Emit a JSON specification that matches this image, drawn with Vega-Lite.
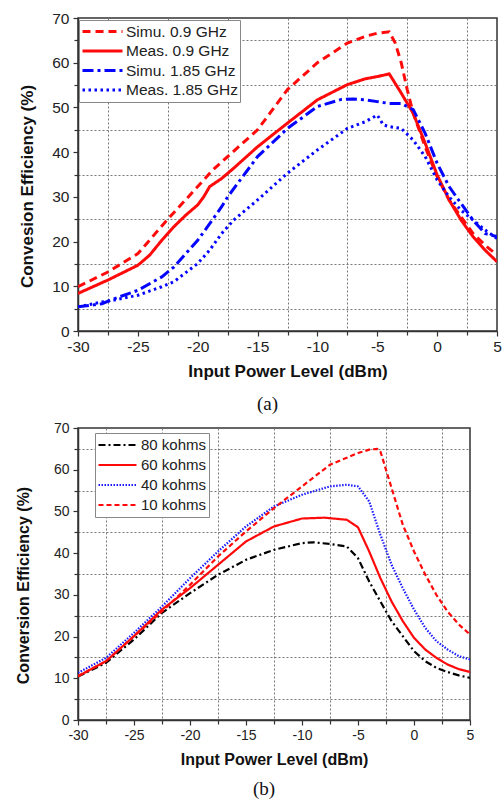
{
  "$schema": "https://vega.github.io/schema/vega-lite/v6.json",
  "padding": {"left": 14, "top": 10, "right": 4, "bottom": 2},
  "background": "white",
  "spacing": 5,
  "align": "none",
  "resolve": {
    "scale": {"color": "independent", "strokeDash": "independent", "x": "independent", "y": "independent"},
    "legend": {"color": "independent", "strokeDash": "independent"}
  },
  "config": {
    "view": {"stroke": "#333333", "strokeWidth": 1.5},
    "font": "Liberation Sans",
    "axis": {
      "domainColor": "#333333", "domainWidth": 1.5,
      "tickColor": "#333333", "tickWidth": 1.2,
      "labelColor": "#222222", "titleColor": "#111111",
      "labelFont": "Liberation Sans", "titleFont": "Liberation Sans",
      "titleFontWeight": "bold", "labelOverlap": false, "labelFlush": false,
      "gridColor": "#777777", "gridDash": [2, 2], "gridWidth": 1
    },
    "legend": {
      "labelFont": "Liberation Sans", "labelColor": "#222222",
      "strokeColor": "#888888", "fillColor": "white", "symbolType": "stroke"
    }
  },
  "datasets": {
    "a": [
      {"series": "Simu. 0.9 GHz", "p": -30, "e": 9.9},
      {"series": "Simu. 0.9 GHz", "p": -27.5, "e": 13.2},
      {"series": "Simu. 0.9 GHz", "p": -25, "e": 17.3},
      {"series": "Simu. 0.9 GHz", "p": -22.5, "e": 25.0},
      {"series": "Simu. 0.9 GHz", "p": -20, "e": 32.3},
      {"series": "Simu. 0.9 GHz", "p": -18.75, "e": 36.0},
      {"series": "Simu. 0.9 GHz", "p": -17.5, "e": 39.0},
      {"series": "Simu. 0.9 GHz", "p": -15, "e": 45.0},
      {"series": "Simu. 0.9 GHz", "p": -12.5, "e": 54.0},
      {"series": "Simu. 0.9 GHz", "p": -10, "e": 60.0},
      {"series": "Simu. 0.9 GHz", "p": -7.5, "e": 64.4},
      {"series": "Simu. 0.9 GHz", "p": -6, "e": 65.9},
      {"series": "Simu. 0.9 GHz", "p": -5, "e": 66.6},
      {"series": "Simu. 0.9 GHz", "p": -4, "e": 66.9},
      {"series": "Simu. 0.9 GHz", "p": -3.5, "e": 64.4},
      {"series": "Simu. 0.9 GHz", "p": -3, "e": 60.0},
      {"series": "Simu. 0.9 GHz", "p": -2.5, "e": 54.0},
      {"series": "Simu. 0.9 GHz", "p": -2, "e": 48.7},
      {"series": "Simu. 0.9 GHz", "p": -1, "e": 41.2},
      {"series": "Simu. 0.9 GHz", "p": 0, "e": 34.5},
      {"series": "Simu. 0.9 GHz", "p": 1, "e": 29.3},
      {"series": "Simu. 0.9 GHz", "p": 2, "e": 25.5},
      {"series": "Simu. 0.9 GHz", "p": 3, "e": 21.8},
      {"series": "Simu. 0.9 GHz", "p": 4, "e": 19.2},
      {"series": "Simu. 0.9 GHz", "p": 5, "e": 17.0},
      {"series": "Meas. 0.9 GHz", "p": -30, "e": 8.4},
      {"series": "Meas. 0.9 GHz", "p": -27.5, "e": 11.4},
      {"series": "Meas. 0.9 GHz", "p": -25, "e": 14.7},
      {"series": "Meas. 0.9 GHz", "p": -24, "e": 17.0},
      {"series": "Meas. 0.9 GHz", "p": -23, "e": 20.3},
      {"series": "Meas. 0.9 GHz", "p": -22, "e": 23.3},
      {"series": "Meas. 0.9 GHz", "p": -21, "e": 25.9},
      {"series": "Meas. 0.9 GHz", "p": -20, "e": 28.2},
      {"series": "Meas. 0.9 GHz", "p": -19.5, "e": 30.0},
      {"series": "Meas. 0.9 GHz", "p": -19, "e": 32.3},
      {"series": "Meas. 0.9 GHz", "p": -18, "e": 34.1},
      {"series": "Meas. 0.9 GHz", "p": -17, "e": 36.4},
      {"series": "Meas. 0.9 GHz", "p": -15, "e": 41.2},
      {"series": "Meas. 0.9 GHz", "p": -12.5, "e": 46.5},
      {"series": "Meas. 0.9 GHz", "p": -10, "e": 51.7},
      {"series": "Meas. 0.9 GHz", "p": -7.5, "e": 55.1},
      {"series": "Meas. 0.9 GHz", "p": -6, "e": 56.4},
      {"series": "Meas. 0.9 GHz", "p": -5, "e": 56.9},
      {"series": "Meas. 0.9 GHz", "p": -4, "e": 57.5},
      {"series": "Meas. 0.9 GHz", "p": -3, "e": 53.2},
      {"series": "Meas. 0.9 GHz", "p": -2, "e": 48.7},
      {"series": "Meas. 0.9 GHz", "p": -1, "e": 42.0},
      {"series": "Meas. 0.9 GHz", "p": 0, "e": 34.9},
      {"series": "Meas. 0.9 GHz", "p": 1, "e": 29.3},
      {"series": "Meas. 0.9 GHz", "p": 2, "e": 24.8},
      {"series": "Meas. 0.9 GHz", "p": 3, "e": 21.1},
      {"series": "Meas. 0.9 GHz", "p": 4, "e": 18.1},
      {"series": "Meas. 0.9 GHz", "p": 5, "e": 15.5},
      {"series": "Simu. 1.85 GHz", "p": -30, "e": 5.4},
      {"series": "Simu. 1.85 GHz", "p": -28, "e": 6.1},
      {"series": "Simu. 1.85 GHz", "p": -27, "e": 7.2},
      {"series": "Simu. 1.85 GHz", "p": -25, "e": 9.1},
      {"series": "Simu. 1.85 GHz", "p": -23, "e": 12.1},
      {"series": "Simu. 1.85 GHz", "p": -22, "e": 14.3},
      {"series": "Simu. 1.85 GHz", "p": -20, "e": 20.3},
      {"series": "Simu. 1.85 GHz", "p": -19, "e": 24.0},
      {"series": "Simu. 1.85 GHz", "p": -18, "e": 27.8},
      {"series": "Simu. 1.85 GHz", "p": -17.5, "e": 30.0},
      {"series": "Simu. 1.85 GHz", "p": -15, "e": 39.0},
      {"series": "Simu. 1.85 GHz", "p": -12.5, "e": 45.3},
      {"series": "Simu. 1.85 GHz", "p": -10, "e": 50.2},
      {"series": "Simu. 1.85 GHz", "p": -8, "e": 51.8},
      {"series": "Simu. 1.85 GHz", "p": -7, "e": 51.9},
      {"series": "Simu. 1.85 GHz", "p": -6, "e": 51.7},
      {"series": "Simu. 1.85 GHz", "p": -5, "e": 51.3},
      {"series": "Simu. 1.85 GHz", "p": -4, "e": 50.9},
      {"series": "Simu. 1.85 GHz", "p": -3, "e": 50.9},
      {"series": "Simu. 1.85 GHz", "p": -2, "e": 49.5},
      {"series": "Simu. 1.85 GHz", "p": -1, "e": 44.2},
      {"series": "Simu. 1.85 GHz", "p": 0, "e": 37.5},
      {"series": "Simu. 1.85 GHz", "p": 1, "e": 32.3},
      {"series": "Simu. 1.85 GHz", "p": 2, "e": 28.5},
      {"series": "Simu. 1.85 GHz", "p": 3, "e": 24.8},
      {"series": "Simu. 1.85 GHz", "p": 4, "e": 21.8},
      {"series": "Simu. 1.85 GHz", "p": 5, "e": 21.1},
      {"series": "Meas. 1.85 GHz", "p": -30, "e": 5.4},
      {"series": "Meas. 1.85 GHz", "p": -28, "e": 6.5},
      {"series": "Meas. 1.85 GHz", "p": -27, "e": 6.9},
      {"series": "Meas. 1.85 GHz", "p": -25, "e": 8.0},
      {"series": "Meas. 1.85 GHz", "p": -23, "e": 9.9},
      {"series": "Meas. 1.85 GHz", "p": -22, "e": 11.0},
      {"series": "Meas. 1.85 GHz", "p": -20, "e": 15.1},
      {"series": "Meas. 1.85 GHz", "p": -19, "e": 18.1},
      {"series": "Meas. 1.85 GHz", "p": -18, "e": 21.8},
      {"series": "Meas. 1.85 GHz", "p": -17, "e": 24.8},
      {"series": "Meas. 1.85 GHz", "p": -15, "e": 29.3},
      {"series": "Meas. 1.85 GHz", "p": -12.5, "e": 35.3},
      {"series": "Meas. 1.85 GHz", "p": -10, "e": 40.5},
      {"series": "Meas. 1.85 GHz", "p": -7.5, "e": 45.3},
      {"series": "Meas. 1.85 GHz", "p": -6, "e": 46.8},
      {"series": "Meas. 1.85 GHz", "p": -5, "e": 48.3},
      {"series": "Meas. 1.85 GHz", "p": -4.5, "e": 46.1},
      {"series": "Meas. 1.85 GHz", "p": -4, "e": 45.7},
      {"series": "Meas. 1.85 GHz", "p": -3, "e": 45.3},
      {"series": "Meas. 1.85 GHz", "p": -2, "e": 42.7},
      {"series": "Meas. 1.85 GHz", "p": -1, "e": 39.0},
      {"series": "Meas. 1.85 GHz", "p": 0, "e": 33.8},
      {"series": "Meas. 1.85 GHz", "p": 1, "e": 30.0},
      {"series": "Meas. 1.85 GHz", "p": 2, "e": 27.0},
      {"series": "Meas. 1.85 GHz", "p": 3, "e": 24.8},
      {"series": "Meas. 1.85 GHz", "p": 4, "e": 22.6},
      {"series": "Meas. 1.85 GHz", "p": 5, "e": 20.7}
    ],
    "b": [
      {"series": "80 kohms", "p": -30, "e": 10.4},
      {"series": "80 kohms", "p": -27.5, "e": 13.7},
      {"series": "80 kohms", "p": -25, "e": 19.3},
      {"series": "80 kohms", "p": -22.5, "e": 25.7},
      {"series": "80 kohms", "p": -20, "e": 30.4},
      {"series": "80 kohms", "p": -17.5, "e": 34.8},
      {"series": "80 kohms", "p": -15, "e": 38.4},
      {"series": "80 kohms", "p": -12.5, "e": 40.8},
      {"series": "80 kohms", "p": -10, "e": 42.4},
      {"series": "80 kohms", "p": -9, "e": 42.6},
      {"series": "80 kohms", "p": -7.5, "e": 42.2},
      {"series": "80 kohms", "p": -6, "e": 41.6},
      {"series": "80 kohms", "p": -5, "e": 38.8},
      {"series": "80 kohms", "p": -4, "e": 33.2},
      {"series": "80 kohms", "p": -3, "e": 28.4},
      {"series": "80 kohms", "p": -2, "e": 23.7},
      {"series": "80 kohms", "p": -1, "e": 20.1},
      {"series": "80 kohms", "p": 0, "e": 16.5},
      {"series": "80 kohms", "p": 1, "e": 14.1},
      {"series": "80 kohms", "p": 2, "e": 12.5},
      {"series": "80 kohms", "p": 3, "e": 11.5},
      {"series": "80 kohms", "p": 4, "e": 10.7},
      {"series": "80 kohms", "p": 5, "e": 10.1},
      {"series": "60 kohms", "p": -30, "e": 10.5},
      {"series": "60 kohms", "p": -27.5, "e": 14.1},
      {"series": "60 kohms", "p": -25, "e": 20.1},
      {"series": "60 kohms", "p": -22.5, "e": 26.5},
      {"series": "60 kohms", "p": -20, "e": 31.6},
      {"series": "60 kohms", "p": -17.5, "e": 37.2},
      {"series": "60 kohms", "p": -15, "e": 42.8},
      {"series": "60 kohms", "p": -12.5, "e": 46.4},
      {"series": "60 kohms", "p": -10, "e": 48.3},
      {"series": "60 kohms", "p": -8, "e": 48.5},
      {"series": "60 kohms", "p": -6, "e": 48.0},
      {"series": "60 kohms", "p": -5, "e": 46.2},
      {"series": "60 kohms", "p": -4, "e": 40.4},
      {"series": "60 kohms", "p": -3, "e": 34.0},
      {"series": "60 kohms", "p": -2, "e": 28.4},
      {"series": "60 kohms", "p": -1, "e": 23.7},
      {"series": "60 kohms", "p": 0, "e": 19.7},
      {"series": "60 kohms", "p": 1, "e": 16.9},
      {"series": "60 kohms", "p": 2, "e": 14.9},
      {"series": "60 kohms", "p": 3, "e": 13.3},
      {"series": "60 kohms", "p": 4, "e": 12.2},
      {"series": "60 kohms", "p": 5, "e": 11.5},
      {"series": "40 kohms", "p": -30, "e": 11.3},
      {"series": "40 kohms", "p": -27.5, "e": 14.9},
      {"series": "40 kohms", "p": -25, "e": 20.9},
      {"series": "40 kohms", "p": -22.5, "e": 27.2},
      {"series": "40 kohms", "p": -20, "e": 34.0},
      {"series": "40 kohms", "p": -17.5, "e": 40.4},
      {"series": "40 kohms", "p": -15, "e": 46.4},
      {"series": "40 kohms", "p": -12.5, "e": 51.2},
      {"series": "40 kohms", "p": -10, "e": 54.0},
      {"series": "40 kohms", "p": -7.5, "e": 56.0},
      {"series": "40 kohms", "p": -6, "e": 56.4},
      {"series": "40 kohms", "p": -5, "e": 56.0},
      {"series": "40 kohms", "p": -4, "e": 52.4},
      {"series": "40 kohms", "p": -3, "e": 44.4},
      {"series": "40 kohms", "p": -2, "e": 37.2},
      {"series": "40 kohms", "p": -1, "e": 31.6},
      {"series": "40 kohms", "p": 0, "e": 26.5},
      {"series": "40 kohms", "p": 1, "e": 22.1},
      {"series": "40 kohms", "p": 2, "e": 18.9},
      {"series": "40 kohms", "p": 3, "e": 16.9},
      {"series": "40 kohms", "p": 4, "e": 15.3},
      {"series": "40 kohms", "p": 5, "e": 14.5},
      {"series": "10 kohms", "p": -30, "e": 10.5},
      {"series": "10 kohms", "p": -27.5, "e": 14.1},
      {"series": "10 kohms", "p": -25, "e": 20.1},
      {"series": "10 kohms", "p": -22.5, "e": 26.0},
      {"series": "10 kohms", "p": -20, "e": 32.4},
      {"series": "10 kohms", "p": -17.5, "e": 39.2},
      {"series": "10 kohms", "p": -15, "e": 45.2},
      {"series": "10 kohms", "p": -12.5, "e": 50.8},
      {"series": "10 kohms", "p": -10, "e": 56.0},
      {"series": "10 kohms", "p": -7.5, "e": 61.2},
      {"series": "10 kohms", "p": -5, "e": 64.0},
      {"series": "10 kohms", "p": -4, "e": 64.8},
      {"series": "10 kohms", "p": -3.3, "e": 65.0},
      {"series": "10 kohms", "p": -3, "e": 64.4},
      {"series": "10 kohms", "p": -2, "e": 55.6},
      {"series": "10 kohms", "p": -1, "e": 46.8},
      {"series": "10 kohms", "p": 0, "e": 40.4},
      {"series": "10 kohms", "p": 1, "e": 34.9},
      {"series": "10 kohms", "p": 2, "e": 30.0},
      {"series": "10 kohms", "p": 3, "e": 26.0},
      {"series": "10 kohms", "p": 4, "e": 22.9},
      {"series": "10 kohms", "p": 5, "e": 20.5}
    ]
  },
  "vconcat": [
    {
      "width": 419,
      "height": 313,
      "title": {"text": "(a)", "orient": "bottom", "font": "Liberation Serif", "fontSize": 19, "fontWeight": "normal", "color": "#111111", "dx": -20, "offset": 15},
      "data": {"name": "a"},
      "mark": {"type": "line", "strokeWidth": 3, "clip": true},
      "encoding": {
        "x": {
          "field": "p", "type": "quantitative",
          "scale": {"domain": [-30, 5], "nice": false, "zero": false},
          "axis": {
            "title": "Input Power Level (dBm)", "titleFontSize": 17, "labelFontSize": 15.5,
            "titlePadding": 9, "labelPadding": 3,
            "values": [-30, -27.5, -25, -22.5, -20, -17.5, -15, -12.5, -10, -7.5, -5, -2.5, 0, 2.5, 5],
            "labelExpr": "datum.value % 5 === 0 ? toString(datum.value) : ''",
            "grid": true,
            "gridOpacity": {"condition": {"test": "datum.value % 5 === 0", "value": 0}, "value": 1},
            "tickSize": {"condition": {"test": "datum.value % 5 === 0", "value": 5}, "value": 4}
          }
        },
        "y": {
          "field": "e", "type": "quantitative",
          "scale": {"domain": [0, 70], "nice": false},
          "axis": {
            "title": "Convesion Efficiency (%)", "titleFontSize": 17, "labelFontSize": 15.5,
            "titlePadding": 15, "labelPadding": 4, "titleY": 168,
            "values": [0, 5, 10, 15, 20, 25, 30, 35, 40, 45, 50, 55, 60, 65, 70],
            "labelExpr": "datum.value % 10 === 0 ? toString(datum.value) : ''",
            "grid": true,
            "gridOpacity": {"condition": {"test": "datum.value % 10 === 0", "value": 0}, "value": 1},
            "tickSize": {"condition": {"test": "datum.value % 10 === 0", "value": 5}, "value": 4}
          }
        },
        "color": {
          "field": "series", "type": "nominal",
          "scale": {"domain": ["Simu. 0.9 GHz", "Meas. 0.9 GHz", "Simu. 1.85 GHz", "Meas. 1.85 GHz"], "range": ["#ff0a0a", "#ff0a0a", "#0505ff", "#0505ff"]},
          "legend": {
            "title": null, "orient": "none", "legendX": 1, "legendY": 2,
            "labelFontSize": 15.5, "symbolSize": 1600, "symbolStrokeWidth": 3,
            "clipHeight": 19, "rowPadding": 0.5, "padding": 2, "labelOffset": 2
          }
        },
        "strokeDash": {
          "field": "series", "type": "nominal",
          "scale": {"domain": ["Simu. 0.9 GHz", "Meas. 0.9 GHz", "Simu. 1.85 GHz", "Meas. 1.85 GHz"], "range": [[8, 5], [1, 0], [11, 4, 3, 4], [2.5, 3.5]]},
          "legend": {
            "title": null, "orient": "none", "legendX": 1, "legendY": 2,
            "labelFontSize": 15.5, "symbolSize": 1600, "symbolStrokeWidth": 3,
            "clipHeight": 19, "rowPadding": 0.5, "padding": 2, "labelOffset": 2
          }
        }
      }
    },
    {
      "width": 392,
      "height": 292,
      "title": {"text": "(b)", "orient": "bottom", "font": "Liberation Serif", "fontSize": 19, "fontWeight": "normal", "color": "#111111", "dx": -10, "offset": 13},
      "data": {"name": "b"},
      "mark": {"type": "line", "strokeWidth": 2.2, "clip": true},
      "encoding": {
        "x": {
          "field": "p", "type": "quantitative",
          "scale": {"domain": [-30, 5], "nice": false, "zero": false},
          "axis": {
            "title": "Input Power Level (dBm)", "titleFontSize": 16, "labelFontSize": 14,
            "titlePadding": 9, "labelPadding": 3,
            "values": [-30, -27.5, -25, -22.5, -20, -17.5, -15, -12.5, -10, -7.5, -5, -2.5, 0, 2.5, 5],
            "labelExpr": "datum.value % 5 === 0 ? toString(datum.value) : ''",
            "grid": true,
            "gridOpacity": {"condition": {"test": "datum.value % 5 === 0", "value": 0}, "value": 1},
            "tickSize": {"condition": {"test": "datum.value % 5 === 0", "value": 5}, "value": 4}
          }
        },
        "y": {
          "field": "e", "type": "quantitative",
          "scale": {"domain": [0, 70], "nice": false},
          "axis": {
            "title": "Conversion Efficiency (%)", "titleFontSize": 16, "labelFontSize": 14,
            "titlePadding": 22, "labelPadding": 4, "titleY": 157,
            "values": [0, 5, 10, 15, 20, 25, 30, 35, 40, 45, 50, 55, 60, 65, 70],
            "labelExpr": "datum.value % 10 === 0 ? toString(datum.value) : ''",
            "grid": true,
            "gridOpacity": {"condition": {"test": "datum.value % 10 === 0", "value": 0}, "value": 1},
            "tickSize": {"condition": {"test": "datum.value % 10 === 0", "value": 5}, "value": 4}
          }
        },
        "color": {
          "field": "series", "type": "nominal",
          "scale": {"domain": ["80 kohms", "60 kohms", "40 kohms", "10 kohms"], "range": ["#000000", "#ff0a0a", "#1a1aff", "#ff0a0a"]},
          "legend": {
            "title": null, "orient": "none", "legendX": 17, "legendY": 5,
            "labelFontSize": 15, "symbolSize": 1444, "symbolStrokeWidth": 2.2,
            "clipHeight": 20, "rowPadding": 0, "padding": 2, "labelOffset": 3
          }
        },
        "strokeDash": {
          "field": "series", "type": "nominal",
          "scale": {"domain": ["80 kohms", "60 kohms", "40 kohms", "10 kohms"], "range": [[7, 3, 2, 3], [1, 0], [1.5, 1.5], [5, 3]]},
          "legend": {
            "title": null, "orient": "none", "legendX": 17, "legendY": 5,
            "labelFontSize": 15, "symbolSize": 1444, "symbolStrokeWidth": 2.2,
            "clipHeight": 20, "rowPadding": 0, "padding": 2, "labelOffset": 3
          }
        }
      }
    }
  ]
}
